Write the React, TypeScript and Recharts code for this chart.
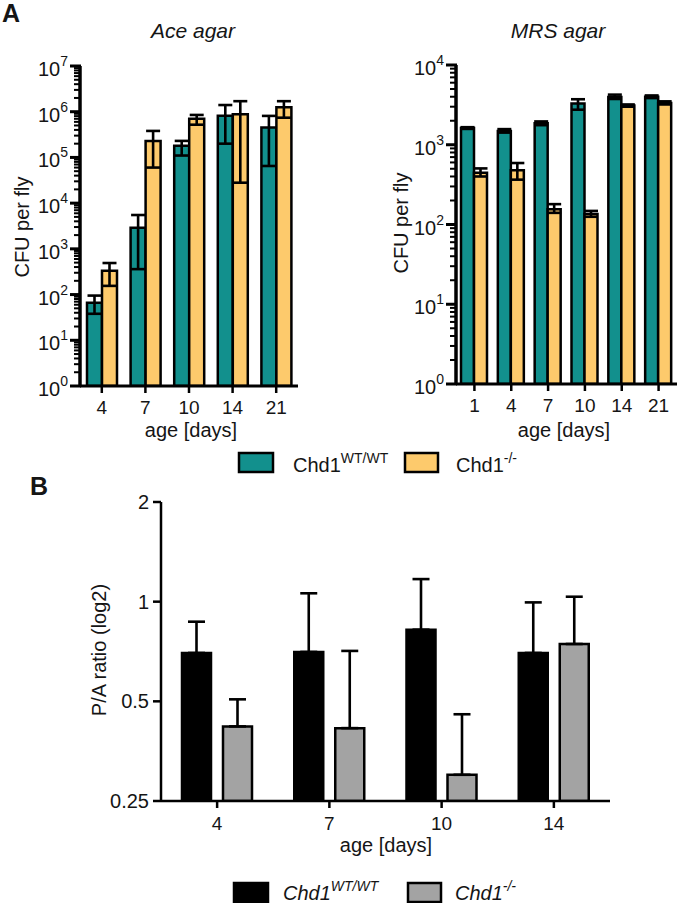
import React from "react";
import { BarChart, Bar, XAxis, YAxis, ErrorBar } from "recharts";

/* ── Data: Ace agar (CFU per fly) ─────────────────────────── */

const aceDays = ["4", "7", "10", "14", "21"];
const aceWt = [66, 2900, 180000, 820000, 450000];
const aceWtLow = [38, 360, 110000, 200000, 65000];
const aceWtHigh = [95, 5500, 230000, 1400000, 810000];
const aceKo = [330, 230000, 700000, 880000, 1250000];
const aceKoLow = [155, 60000, 520000, 28000, 740000];
const aceKoHigh = [490, 380000, 850000, 1700000, 1700000];

/* ── Data: MRS agar (CFU per fly) ─────────────────────────── */

const mrsDays = ["1", "4", "7", "10", "14", "21"];
const mrsWt = [1620, 1490, 1860, 3300, 3980, 4000];
const mrsWtLow = [1580, 1420, 1760, 2750, 3750, 3850];
const mrsWtHigh = [1660, 1570, 1960, 3720, 4250, 4150];
const mrsKo = [445, 480, 155, 135, 3100, 3350];
const mrsKoLow = [400, 365, 140, 125, 3000, 3200];
const mrsKoHigh = [505, 590, 180, 148, 3200, 3500];

/* ── Data: P/A ratio (mean + upper SD) ────────────────────── */

const paDays = ["4", "7", "10", "14"];
const paWt = [0.70, 0.705, 0.823, 0.70];
const paWtHigh = [0.87, 1.06, 1.17, 0.995];
const paKo = [0.42, 0.415, 0.30, 0.745];
const paKoHigh = [0.507, 0.71, 0.457, 1.035];

/* ── Tick values ──────────────────────────────────────────── */

const logTicks = (maxExp: number) => {
  const t: number[] = [];
  for (let e = 0; e < maxExp; e++) for (let m = 1; m <= 9; m++) t.push(m * 10 ** e);
  t.push(10 ** maxExp);
  return t;
};
const aceTicks = logTicks(7);
const mrsTicks = logTicks(4);
const paTicks = [0.25, 0.5, 1, 2];

/* ── Style ────────────────────────────────────────────────── */

const TEAL = "#12908d";
const YELLOW = "#fdca6c";
const GREY = "#a3a3a3";
const INK = "#151515";
const FONT = "'Liberation Sans', Arial, Helvetica, sans-serif";

/* ── Rows ─────────────────────────────────────────────────── */

const aceRows = aceDays.map((d, i) => ({
  day: d,
  wt: aceWt[i],
  wtErr: [aceWt[i] - aceWtLow[i], aceWtHigh[i] - aceWt[i]],
  ko: aceKo[i],
  koErr: [aceKo[i] - aceKoLow[i], aceKoHigh[i] - aceKo[i]],
}));

const mrsRows = mrsDays.map((d, i) => ({
  day: d,
  wt: mrsWt[i],
  wtErr: [mrsWt[i] - mrsWtLow[i], mrsWtHigh[i] - mrsWt[i]],
  ko: mrsKo[i],
  koErr: [mrsKo[i] - mrsKoLow[i], mrsKoHigh[i] - mrsKo[i]],
}));

const paRows = paDays.map((d, i) => ({
  day: d,
  wt: paWt[i],
  wtErr: [0, paWtHigh[i] - paWt[i]],
  ko: paKo[i],
  koErr: [0, paKoHigh[i] - paKo[i]],
}));

/* ── Custom log tick: comb marks + 10^n labels ────────────── */

function LogTick(props: any) {
  const x = Number(props.x);
  const y = Number(props.y);
  const s = String(props.payload?.value);
  const major = /^10*$/.test(s);
  const len = major ? 10 : 6;
  const th = major ? 3 : 2;
  return (
    <g>
      <rect x={x - len} y={y - th / 2} width={len + 1} height={th} fill="#000" stroke="none" />
      {major && (
        <text x={x - 12} y={y + 10} textAnchor="end" fontSize={20} fill={INK} stroke="none" fontFamily={FONT}>
          10
          <tspan dy={-10} fontSize={14}>
            {s.length - 1}
          </tspan>
        </text>
      )}
    </g>
  );
}

const xTick = { fontSize: 19, fill: INK, fontFamily: FONT };
const yTick = { fontSize: 20, fill: INK, fontFamily: FONT };

function CfuChart({
  rows,
  ticks,
  max,
  width,
  top,
  bottom,
  barSize,
}: {
  rows: any[];
  ticks: number[];
  max: number;
  width: number;
  top: number;
  bottom: number;
  barSize: number;
}) {
  return (
    <BarChart
      width={width}
      height={440}
      data={rows}
      margin={{ top, right: 0, bottom, left: 0 }}
      barGap={0}
      barSize={barSize}
    >
      <XAxis
        dataKey="day"
        height={30}
        interval={0}
        tickSize={7}
        tickMargin={8}
        axisLine={{ stroke: "#000", strokeWidth: 3 }}
        tickLine={{ stroke: "#000", strokeWidth: 2.5 }}
        tick={xTick}
      />
      <YAxis
        type="number"
        scale="log"
        domain={[1, max]}
        allowDataOverflow
        ticks={ticks}
        interval={0}
        width={80}
        tickSize={0}
        tickMargin={0}
        tickLine={false}
        axisLine={{ stroke: "#000", strokeWidth: 3.5 }}
        tick={(p: any) => <LogTick {...p} />}
      />
      <Bar dataKey="wt" fill={TEAL} stroke="#000" strokeWidth={2.5} isAnimationActive={false}>
        <ErrorBar dataKey="wtErr" direction="y" width={7} stroke="#000" strokeWidth={2.6} isAnimationActive={false} />
      </Bar>
      <Bar dataKey="ko" fill={YELLOW} stroke="#000" strokeWidth={2.5} isAnimationActive={false}>
        <ErrorBar dataKey="koErr" direction="y" width={7} stroke="#000" strokeWidth={2.6} isAnimationActive={false} />
      </Bar>
    </BarChart>
  );
}

/* ── Component ────────────────────────────────────────────── */

export default function App() {
  return (
    <div
      style={{
        position: "absolute",
        left: 0,
        top: 0,
        width: 677,
        height: 903,
        background: "#fff",
        fontFamily: FONT,
        overflow: "hidden",
      }}
    >
      {/* A: Ace agar */}
      <div style={{ position: "absolute", left: 0, top: 0 }}>
        <CfuChart rows={aceRows} ticks={aceTicks} max={1e7} width={298} top={66} bottom={24} barSize={15} />
      </div>

      {/* A: MRS agar */}
      <div style={{ position: "absolute", left: 376, top: 0 }}>
        <CfuChart rows={mrsRows} ticks={mrsTicks} max={1e4} width={301} top={65} bottom={26} barSize={13} />
      </div>

      {/* B: P/A ratio */}
      <div style={{ position: "absolute", left: 0, top: 470 }}>
        <BarChart
          width={620}
          height={380}
          data={paRows}
          margin={{ top: 32, right: 10, bottom: 19, left: 0 }}
          barGap={12}
          barSize={29}
        >
          <XAxis
            dataKey="day"
            height={30}
            interval={0}
            tickSize={7}
            tickMargin={9}
            axisLine={{ stroke: "#000", strokeWidth: 2.5 }}
            tickLine={{ stroke: "#000", strokeWidth: 2.5 }}
            tick={xTick}
          />
          <YAxis
            type="number"
            scale="log"
            domain={[0.25, 2]}
            allowDataOverflow
            ticks={paTicks}
            interval={0}
            width={161}
            tickSize={8}
            tickMargin={4}
            axisLine={{ stroke: "#000", strokeWidth: 2.5 }}
            tickLine={{ stroke: "#000", strokeWidth: 2.5 }}
            tick={yTick}
          />
          <Bar dataKey="wt" fill="#000" stroke="#000" strokeWidth={2.5} isAnimationActive={false}>
            <ErrorBar dataKey="wtErr" direction="y" width={8.5} stroke="#000" strokeWidth={2.6} isAnimationActive={false} />
          </Bar>
          <Bar dataKey="ko" fill={GREY} stroke="#000" strokeWidth={2.5} isAnimationActive={false}>
            <ErrorBar dataKey="koErr" direction="y" width={8.5} stroke="#000" strokeWidth={2.6} isAnimationActive={false} />
          </Bar>
        </BarChart>
      </div>

      {/* Labels, titles and legends */}
      <svg
        width={677}
        height={903}
        style={{ position: "absolute", left: 0, top: 0, pointerEvents: "none" }}
        fontFamily={FONT}
        fill={INK}
      >
        <text x={2} y={22} fontSize={25} fontWeight="bold">A</text>
        <text x={30} y={495} fontSize={25} fontWeight="bold">B</text>

        <text x={193} y={38} fontSize={21} fontStyle="italic" textAnchor="middle">Ace agar</text>
        <text x={558} y={38} fontSize={21} fontStyle="italic" textAnchor="middle">MRS agar</text>

        <text x={29} y={227} fontSize={20} textAnchor="middle" transform="rotate(-90 29 227)">CFU per fly</text>
        <text x={408} y={223} fontSize={20} textAnchor="middle" transform="rotate(-90 408 223)">CFU per fly</text>
        <text x={106} y={650} fontSize={20} textAnchor="middle" transform="rotate(-90 106 650)">P/A ratio (log2)</text>

        <text x={191} y={437} fontSize={20} textAnchor="middle">age [days]</text>
        <text x={564} y={437} fontSize={20} textAnchor="middle">age [days]</text>
        <text x={386} y={852} fontSize={20} textAnchor="middle">age [days]</text>

        {/* legend A */}
        <rect x={239} y={453} width={34} height={19} fill={TEAL} stroke="#000" strokeWidth={2.5} />
        <text x={293} y={472} fontSize={20}>
          Chd1<tspan dy={-9} fontSize={14}>WT/WT</tspan>
        </text>
        <rect x={405} y={453} width={33} height={19} fill={YELLOW} stroke="#000" strokeWidth={2.5} />
        <text x={456} y={472} fontSize={20}>
          Chd1<tspan dy={-9} fontSize={14}>-/-</tspan>
        </text>

        {/* legend B */}
        <rect x={234} y={883} width={34} height={19} fill="#000" stroke="#000" strokeWidth={2.5} />
        <text x={283} y={900} fontSize={20} fontStyle="italic">
          Chd1<tspan dy={-9} fontSize={14}>WT/WT</tspan>
        </text>
        <rect x={408} y={883} width={33} height={19} fill={GREY} stroke="#000" strokeWidth={2.5} />
        <text x={455} y={900} fontSize={20} fontStyle="italic">
          Chd1<tspan dy={-9} fontSize={14}>-/-</tspan>
        </text>
      </svg>
    </div>
  );
}
